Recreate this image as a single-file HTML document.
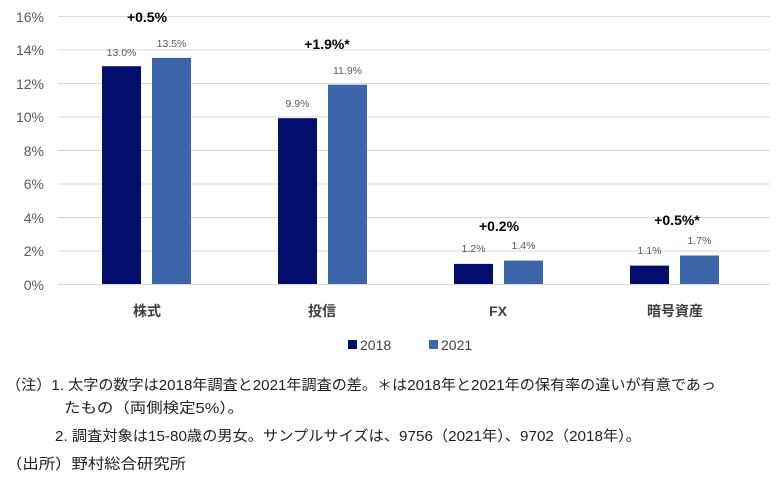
<!DOCTYPE html>
<html><head><meta charset="utf-8"><style>
html,body{margin:0;padding:0;background:#fff;}
svg{display:block;font-family:"Liberation Sans","Noto Sans CJK JP",sans-serif;}
</style></head><body>
<svg width="777" height="480" viewBox="0 0 777 480" xmlns="http://www.w3.org/2000/svg">
<g stroke="#d9d9d9" stroke-width="1">
<line x1="58" x2="770" y1="16.5" y2="16.5"/>
<line x1="58" x2="770" y1="50" y2="50"/>
<line x1="58" x2="770" y1="83.5" y2="83.5"/>
<line x1="58" x2="770" y1="117" y2="117"/>
<line x1="58" x2="770" y1="150.5" y2="150.5"/>
<line x1="58" x2="770" y1="184" y2="184"/>
<line x1="58" x2="770" y1="217.5" y2="217.5"/>
<line x1="58" x2="770" y1="251" y2="251"/>
<line x1="58" x2="770" y1="284.5" y2="284.5"/>
</g>
<g font-size="14" fill="#595959" text-anchor="end">
<text x="44" y="22">16%</text><text x="44" y="55">14%</text><text x="44" y="89">12%</text>
<text x="44" y="122">10%</text><text x="44" y="156">8%</text><text x="44" y="189">6%</text>
<text x="44" y="223">4%</text><text x="44" y="256">2%</text><text x="44" y="290">0%</text>
</g>
<g fill="#020e6b">
<rect x="102" y="66.2" width="39" height="217.8"/>
<rect x="278" y="118.2" width="39" height="165.8"/>
<rect x="454" y="263.9" width="39" height="20.1"/>
<rect x="630" y="265.6" width="39" height="18.4"/>
</g>
<g fill="#3c64a8">
<rect x="152" y="57.9" width="39" height="226.1"/>
<rect x="328" y="84.7" width="39" height="199.3"/>
<rect x="504" y="260.6" width="39" height="23.4"/>
<rect x="680" y="255.5" width="39" height="28.5"/>
</g>
<g font-size="10.5" fill="#595959" text-anchor="middle">
<text x="121.5" y="56">13.0%</text><text x="171.5" y="47">13.5%</text>
<text x="297.5" y="107">9.9%</text><text x="347.5" y="74">11.9%</text>
<text x="473.5" y="252">1.2%</text><text x="523.5" y="249">1.4%</text>
<text x="649.5" y="254">1.1%</text><text x="699.5" y="244">1.7%</text>
</g>
<g font-size="14" font-weight="bold" fill="#000" text-anchor="middle">
<text x="147" y="22">+0.5%</text><text x="327" y="49">+1.9%*</text>
<text x="499" y="231">+0.2%</text><text x="677" y="225">+0.5%*</text>
</g>
<g font-size="14" font-weight="bold" fill="#404040" text-anchor="middle">
<text x="147" y="316">株式</text><text x="322" y="316">投信</text>
<text x="498" y="316">FX</text><text x="675" y="316">暗号資産</text>
</g>
<rect x="348" y="340" width="9" height="9" fill="#020e6b"/>
<text x="360" y="350" font-size="14" fill="#404040">2018</text>
<rect x="429" y="340" width="9" height="9" fill="#3c64a8"/>
<text x="441" y="350" font-size="14" fill="#404040">2021</text>
<g font-size="14.5" fill="#222">
<text x="6" y="390" textLength="710" lengthAdjust="spacingAndGlyphs">（注）1. 太字の数字は2018年調査と2021年調査の差。＊は2018年と2021年の保有率の違いが有意であっ</text>
<text x="64" y="413" textLength="180" lengthAdjust="spacingAndGlyphs">たもの（両側検定5%）。</text>
<text x="55" y="441" textLength="586" lengthAdjust="spacingAndGlyphs">2. 調査対象は15-80歳の男女。サンプルサイズは、9756（2021年）、9702（2018年）。</text>
<text x="6" y="469" textLength="180" lengthAdjust="spacingAndGlyphs">（出所）野村総合研究所</text>
</g>
</svg>
</body></html>
